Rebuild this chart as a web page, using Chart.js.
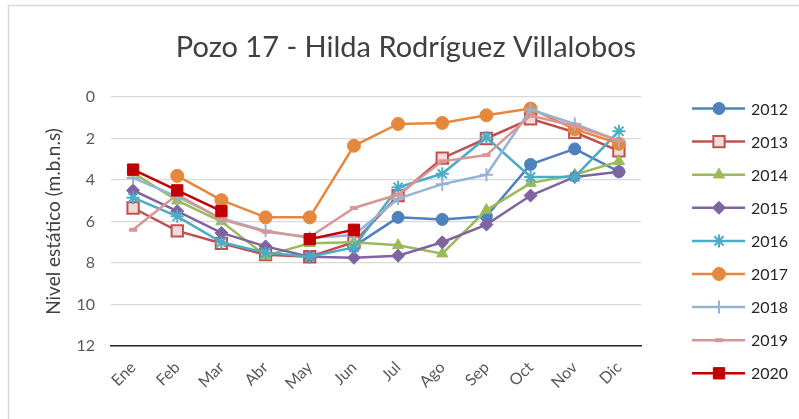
<!DOCTYPE html>
<html>
<head>
<meta charset="utf-8">
<script src="https://cdn.jsdelivr.net/npm/chart.js@4/dist/chart.umd.min.js"></script>
<style>
  html, body { margin: 0; padding: 0; background: #fff; }
  canvas { display: block; }
</style>
</head>
<body>
<canvas id="pozo" width="799" height="419"></canvas>
<script>
const meses = ['Ene', 'Feb', 'Mar', 'Abr', 'May', 'Jun', 'Jul', 'Ago', 'Sep', 'Oct', 'Nov', 'Dic'];
const anios = ['2012', '2013', '2014', '2015', '2016', '2017', '2018', '2019', '2020'];

// nivel estatico (m.b.n.s) por mes
const v2012 = [null, null, null, null, null, 7.2, 5.8, 5.9, 5.75, 3.25, 2.5, 3.6];
const v2013 = [5.35, 6.45, 7.05, 7.6, 7.7, 7.0, 4.75, 2.95, 2.0, 1.05, 1.7, 2.6];
const v2014 = [3.65, 5.0, 6.0, 7.65, 7.05, 7.0, 7.15, 7.55, 5.45, 4.15, 3.75, 3.1];
const v2015 = [4.5, 5.5, 6.55, 7.2, 7.7, 7.75, 7.65, 7.0, 6.15, 4.75, 3.85, 3.6];
const v2016 = [4.85, 5.75, 7.0, 7.5, 7.7, 7.25, 4.35, 3.7, 1.95, 3.85, 3.85, 1.65];
const v2017 = [null, 3.8, 4.97, 5.8, 5.8, 2.35, 1.3, 1.25, 0.88, 0.56, 1.55, 2.25];
const v2018 = [3.9, 4.8, 5.85, 6.45, 6.8, 6.65, 4.9, 4.2, 3.75, 0.6, 1.3, 2.1];
const v2019 = [6.4, 4.7, 5.9, 6.5, 6.75, 5.35, 4.7, 3.1, 2.8, 0.9, 1.4, 2.1];
const v2020 = [3.5, 4.5, 5.5, null, 6.85, 6.4, null, null, null, null, null, null];

const yTicks = [0, 2, 4, 6, 8, 10, 12];
const titulo = 'Pozo 17 - Hilda Rodríguez Villalobos';

const series = [v2012, v2013, v2014, v2015, v2016, v2017, v2018, v2019, v2020];
const colores = ['#4F81BD', '#C0504D', '#9BBB59', '#8064A2', '#4BACC6', '#E6883C', '#95B3D7', '#D99694', '#C00000'];
const rellenos = ['#4F81BD', '#F2DCDB', '#9BBB59', '#8064A2', '#4BACC6', '#E6883C', '#95B3D7', '#D99694', '#C00000'];
const marcas = ['circle', 'rect', 'triangle', 'rectRot', 'star', 'circle', 'cross', 'line', 'rect'];
const radios = [6, 8, 6.5, 6.5, 6.5, 6.5, 6.5, 4, 8];
const bordesMarca = [1, 2, 1, 1, 2, 1, 2, 4, 1];

const FONT = 'Lato, "Open Sans", sans-serif';

const datasets = series.map((d, i) => ({
    label: anios[i],
    data: d,
    borderColor: colores[i],
    backgroundColor: rellenos[i],
    borderWidth: 2.5,
    pointStyle: marcas[i],
    pointRadius: radios[i],
    pointHoverRadius: radios[i],
    pointBorderWidth: bordesMarca[i],
    pointBorderColor: colores[i],
    pointBackgroundColor: rellenos[i],
    spanGaps: false,
    tension: 0,
    order: -i
}));

// fondo, marco gris y titulo
const marco = {
    id: 'marco',
    beforeDraw(chart) {
        const c = chart.ctx;
        c.save();
        c.fillStyle = '#fff';
        c.fillRect(0, 0, chart.width, chart.height);
        c.strokeStyle = '#D9D9D9';
        c.lineWidth = 1.5;
        c.strokeRect(8.5, 5.5, chart.width + 10, chart.height + 10);
        c.fillStyle = '#404040';
        c.font = '29px ' + FONT;
        c.textAlign = 'center';
        c.textBaseline = 'middle';
        c.fillText(titulo, 406, 48);
        c.restore();
    }
};

// leyenda con linea + marcador, como en Excel
const leyenda = {
    id: 'leyenda',
    afterDraw(chart) {
        const c = chart.ctx;
        chart.data.datasets.forEach((ds, i) => {
            const y = 108.5 + 33.1 * i;
            c.save();
            c.strokeStyle = ds.borderColor;
            c.lineWidth = ds.borderWidth;
            c.beginPath();
            c.moveTo(692, y);
            c.lineTo(745, y);
            c.stroke();
            c.fillStyle = ds.pointBackgroundColor;
            c.strokeStyle = ds.pointBorderColor;
            c.lineWidth = ds.pointBorderWidth;
            Chart.helpers.drawPoint(c, {
                pointStyle: ds.pointStyle,
                radius: ds.pointRadius,
                rotation: 0,
                borderWidth: ds.pointBorderWidth
            }, 719, y);
            c.fillStyle = '#262626';
            c.font = '16px ' + FONT;
            c.textBaseline = 'middle';
            c.textAlign = 'left';
            c.fillText(ds.label, 751, y + 1);
            c.restore();
        });
    }
};

new Chart(document.getElementById('pozo'), {
    type: 'line',
    data: { labels: meses, datasets: datasets },
    options: {
        responsive: false,
        animation: false,
        layout: { padding: { left: 38, right: 158, top: 97, bottom: 8 } },
        plugins: {
            legend: { display: false },
            tooltip: { enabled: false },
            title: { display: false }
        },
        scales: {
            x: {
                offset: true,
                grid: { display: false },
                border: { display: true, color: '#262626', width: 1.5 },
                ticks: {
                    color: '#595959',
                    font: { family: FONT, size: 16 },
                    minRotation: 45,
                    maxRotation: 45,
                    padding: 4
                },
                afterFit(scale) { scale.height = 65; }
            },
            y: {
                reverse: true,
                min: 0,
                max: 12,
                afterBuildTicks(scale) { scale.ticks = yTicks.map(v => ({ value: v })); },
                grid: { color: '#D9D9D9', lineWidth: 1.2, drawTicks: false },
                border: { display: false },
                ticks: {
                    color: '#595959',
                    font: { family: FONT, size: 16 },
                    padding: 16
                },
                title: {
                    display: true,
                    text: 'Nivel estático (m.b.n.s)',
                    color: '#404040',
                    font: { family: FONT, size: 19 },
                    padding: { top: 4, bottom: 4 }
                },
                afterFit(scale) { scale.width = 73; }
            }
        }
    },
    plugins: [marco, leyenda]
});
</script>
</body>
</html>
